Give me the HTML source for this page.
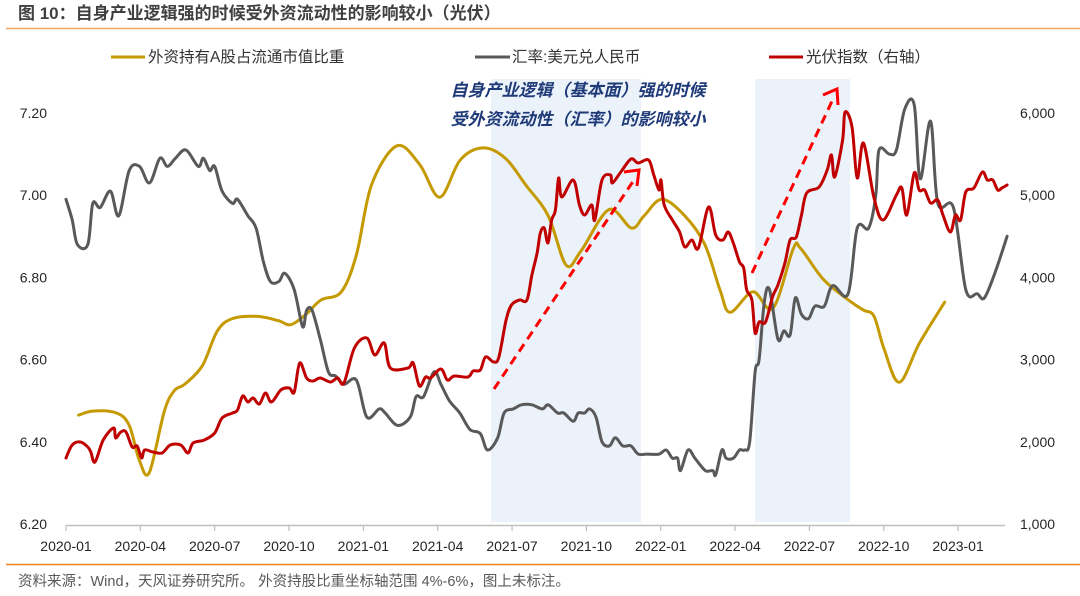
<!DOCTYPE html>
<html><head><meta charset="utf-8">
<style>
html,body{margin:0;padding:0;background:#fff;}
body{width:1080px;height:596px;overflow:hidden;position:relative;font-family:"Liberation Sans","Noto Sans CJK SC",sans-serif;}
svg{position:absolute;left:0;top:0;}
</style></head>
<body>
<svg id="chart" width="1080" height="596" viewBox="0 0 1080 596" xmlns="http://www.w3.org/2000/svg">
  <text x="18" y="19" font-size="17" font-weight="bold" fill="#404040" font-family="Liberation Sans, Noto Sans CJK SC, sans-serif">图 10：自身产业逻辑强的时候受外资流动性的影响较小（光伏）</text>
  <line x1="6" y1="28.5" x2="1080" y2="28.5" stroke="#f4a460" stroke-width="1.5"/>
  <rect x="491" y="79" width="150" height="443" fill="#ebf2fa"/>
  <rect x="755" y="79" width="95" height="443" fill="#ebf2fa"/>
  <g id="axes"></g>
  <g id="series"></g>
  <g font-size="15.5" fill="#333" font-family="Liberation Sans, Noto Sans CJK SC, sans-serif">
    <g>
      <line x1="111" y1="57" x2="145" y2="57" stroke="#c49a00" stroke-width="3"/>
      <text x="148" y="62">外资持有A股占流通市值比重</text>
    </g>
    <g>
      <line x1="475" y1="57" x2="510" y2="57" stroke="#595959" stroke-width="3"/>
      <text x="512" y="62">汇率:美元兑人民币</text>
    </g>
    <g>
      <line x1="769" y1="57" x2="803" y2="57" stroke="#c00000" stroke-width="3"/>
      <text x="806" y="62">光伏指数（右轴）</text>
    </g>
  </g>
  <g font-size="17" font-weight="bold" font-style="italic" fill="#1f3a78" text-anchor="middle" font-family="Liberation Sans, Noto Sans CJK SC, sans-serif">
    <text x="578" y="96">自身产业逻辑（基本面）强的时候</text>
    <text x="578" y="125">受外资流动性（汇率）的影响较小</text>
  </g>
  <g stroke="#ff0000" stroke-width="3" fill="none">
    <line x1="494" y1="389" x2="634" y2="180" stroke-dasharray="9,6"/>
    <polyline points="624,172 639,170 637,186"/>
    <line x1="752" y1="273" x2="833" y2="99" stroke-dasharray="9,6"/>
    <polyline points="823,95 837,89 838,105"/>
  </g>
  <line x1="6" y1="564.5" x2="1080" y2="564.5" stroke="#f08020" stroke-width="1.5"/>
  <text x="18" y="586" font-size="14.5" fill="#595959" font-family="Liberation Sans, Noto Sans CJK SC, sans-serif">资料来源：Wind，天风证券研究所。 外资持股比重坐标轴范围 4%-6%，图上未标注。</text>
</svg>
<script>
// ---- data ----
const xTickLabels = ["2020-01","2020-04","2020-07","2020-10","2021-01","2021-04","2021-07","2021-10","2022-01","2022-04","2022-07","2022-10","2023-01"];
const leftTickLabels = ["6.20","6.40","6.60","6.80","7.00","7.20"];
const leftTickValues = [6.2,6.4,6.6,6.8,7.0,7.2];
const rightTickLabels = ["1,000","2,000","3,000","4,000","5,000","6,000"];
const rightTickValues = [1000,2000,3000,4000,5000,6000];

// months since 2020-01
const shareT = [0.51,1.12,2.04,2.55,2.96,3.36,3.97,4.38,4.79,5.50,6.11,6.73,7.74,8.56,9.07,9.68,10.29,11.11,11.72,12.33,13.35,14.27,15.08,15.90,16.81,17.73,18.55,19.46,20.18,20.79,21.91,22.82,23.33,24.05,24.97,25.78,26.39,26.80,27.72,28.53,29.35,29.65,30.57,31.69,32.20,32.61,33.02,33.63,34.44,35.46];
const shareV = [4.53,4.55,4.54,4.48,4.31,4.25,4.55,4.65,4.68,4.77,4.94,5.00,5.01,4.99,4.97,5.02,5.09,5.13,5.31,5.65,5.84,5.75,5.59,5.77,5.83,5.78,5.65,5.50,5.26,5.33,5.53,5.44,5.50,5.58,5.50,5.36,5.14,5.03,5.13,5.05,5.34,5.34,5.19,5.08,5.04,5.01,4.85,4.69,4.88,5.08];

const fxT = [0,0.25,0.46,0.88,1.08,1.38,1.79,2.13,2.55,2.97,3.37,3.79,4.09,4.42,4.84,5.34,5.54,5.80,6.00,6.30,6.72,6.92,7.34,7.67,7.96,8.25,8.59,8.83,9.21,9.55,9.71,9.93,10.26,10.59,10.88,11.22,11.72,12.14,12.64,12.88,13.38,13.89,14.13,14.43,14.85,15.13,15.47,15.89,16.30,16.72,17.01,17.42,17.68,18.06,18.38,18.80,19.22,19.46,19.84,20.09,20.47,20.67,20.93,21.13,21.39,21.63,21.93,22.17,22.47,22.80,23.09,23.43,23.93,24.22,24.47,24.68,24.80,25.10,25.38,25.80,26.10,26.22,26.47,26.64,26.93,27.18,27.39,27.59,27.81,27.97,28.18,28.39,28.73,28.97,29.22,29.43,29.68,29.97,30.22,30.60,30.94,31.56,31.93,32.39,32.68,32.81,33.23,33.51,33.85,34.23,34.47,34.89,35.18,35.81,36.31,36.77,37.06,37.48,37.98];
const fxV = [6.99,6.94,6.88,6.88,6.98,6.97,7.01,6.95,7.06,7.07,7.03,7.09,7.07,7.09,7.11,7.07,7.09,7.06,7.07,7.01,6.98,6.99,6.95,6.92,6.84,6.79,6.79,6.81,6.77,6.68,6.72,6.72,6.65,6.57,6.56,6.54,6.55,6.46,6.48,6.47,6.44,6.46,6.51,6.51,6.57,6.54,6.50,6.47,6.43,6.42,6.38,6.41,6.47,6.48,6.49,6.49,6.48,6.49,6.47,6.47,6.45,6.47,6.47,6.48,6.46,6.40,6.39,6.41,6.39,6.39,6.37,6.37,6.37,6.38,6.36,6.36,6.33,6.38,6.36,6.33,6.33,6.32,6.38,6.36,6.36,6.38,6.38,6.40,6.57,6.60,6.74,6.77,6.65,6.67,6.66,6.75,6.71,6.70,6.73,6.73,6.78,6.76,6.92,6.92,7.00,7.11,7.10,7.11,7.21,7.22,7.04,7.18,6.98,6.97,6.77,6.76,6.75,6.81,6.90];

const pvT = [0,0.25,0.58,0.88,1.00,1.17,1.50,1.92,2.00,2.21,2.42,2.67,2.87,3.05,3.17,3.51,3.88,4.21,4.63,4.92,5.13,5.58,6.00,6.30,6.72,6.92,7.13,7.34,7.55,7.80,8.05,8.29,8.67,9.01,9.21,9.43,9.71,9.97,10.26,10.67,10.96,11.22,11.64,12.14,12.46,12.84,13.09,13.80,14.01,14.26,14.51,14.71,15.13,15.39,15.67,16.22,16.43,16.72,16.93,17.26,17.47,17.76,17.98,18.30,18.60,18.80,19.01,19.14,19.30,19.45,19.60,19.75,19.88,20.01,20.47,20.72,20.93,21.22,21.34,21.63,21.97,22.05,22.39,22.80,23.09,23.51,23.72,23.93,24.01,24.14,24.47,24.76,24.97,25.26,25.52,25.93,26.22,26.51,26.72,26.93,27.18,27.35,27.47,27.68,27.81,27.97,28.23,28.51,28.73,29.01,29.22,29.47,29.68,29.89,30.39,30.72,30.89,31.02,31.34,31.44,31.72,31.93,32.18,32.60,32.97,33.51,33.73,33.93,34.23,34.43,34.65,34.89,35.18,35.39,35.69,35.89,36.10,36.31,36.64,36.98,37.18,37.40,37.60,37.77,37.98];
const pvV = [1803,1961,1998,1937,1876,1754,2022,2168,2046,2119,2119,1937,1949,1803,1900,1876,1864,1961,1961,1864,1985,2022,2107,2290,2350,2387,2557,2484,2533,2460,2594,2484,2630,2655,2606,2959,2776,2740,2776,2728,2776,2716,3141,3263,3056,3202,2898,2898,2959,2679,2788,2776,2886,2752,2801,2788,2861,2874,3032,2971,3032,3482,3664,3725,3725,4029,4297,4540,4600,4420,4700,4820,5209,4978,5185,4881,4759,4881,4698,5185,5246,5148,5282,5440,5392,5428,5246,5063,5185,4881,4698,4552,4370,4455,4358,4856,4516,4455,4552,4419,4187,4114,3847,3725,3324,3458,3458,3762,3908,4175,4455,4492,4759,5027,5100,5307,5489,5221,5672,6012,5830,5209,5635,4978,4698,5002,5088,4759,5270,5063,5063,4905,4942,4759,4552,4759,4698,5039,5088,5282,5185,5185,5063,5088,5124];

// ---- scales ----
const X0 = 66, MONTH = 24.78, YBOT = 524, YTOP = 113;
const xAt = t => X0 + t * MONTH;
const yLeft = v => YBOT - (v - 6.2) / 1.0 * (YBOT - YTOP);
const yRight = v => YBOT - (v - 1000) / 5000 * (YBOT - YTOP);
const yShare = v => YBOT - (v - 4) / 2 * (YBOT - YTOP);

const NS = "http://www.w3.org/2000/svg";
const axes = document.getElementById("axes");
const series = document.getElementById("series");
function mk(tag, attrs, parent){ const e=document.createElementNS(NS,tag); for(const k in attrs) e.setAttribute(k,attrs[k]); parent.appendChild(e); return e; }

const xAxis = mk("line",{x1:X0,y1:525.5,x2:1005,y2:525.5,stroke:"#bfbfbf","stroke-width":1.5},axes);


xTickLabels.forEach((lab,i)=>{
  const x = xAt(i*3);
  const tk = mk("line",{x1:x,y1:525,x2:x,y2:531,stroke:"#bfbfbf","stroke-width":1.2},axes);
  
  
  const tx = mk("text",{x:x,y:551,"text-anchor":"middle","font-size":14,fill:"#262626"},axes);
  tx.textContent = lab;
  
  
});
leftTickValues.forEach((v,i)=>{
  const tx = mk("text",{x:47,y:yLeft(v)+5,"text-anchor":"end","font-size":14,fill:"#262626"},axes);
  tx.textContent = leftTickLabels[i];
  
  
});
rightTickValues.forEach((v,i)=>{
  const tx = mk("text",{x:1020,y:yRight(v)+5,"text-anchor":"start","font-size":14,fill:"#262626"},axes);
  tx.textContent = rightTickLabels[i];
  
  
});

function smoothPath(pts){
  let d = "M" + pts[0][0].toFixed(1) + "," + pts[0][1].toFixed(1);
  for(let i=0;i<pts.length-1;i++){
    const p0 = pts[i-1]||pts[i], p1 = pts[i], p2 = pts[i+1], p3 = pts[i+2]||p2;
    const k = 1/6;
    const c1 = [p1[0]+(p2[0]-p0[0])*k, p1[1]+(p2[1]-p0[1])*k];
    const c2 = [p2[0]-(p3[0]-p1[0])*k, p2[1]-(p3[1]-p1[1])*k];
    d += " C"+c1[0].toFixed(1)+","+c1[1].toFixed(1)+" "+c2[0].toFixed(1)+","+c2[1].toFixed(1)+" "+p2[0].toFixed(1)+","+p2[1].toFixed(1);
  }
  return d;
}
function line(ts, vs, yf, color){
  const pts = ts.map((t,i)=>[xAt(t), yf(vs[i])]);
  return mk("path",{d: smoothPath(pts),fill:"none",stroke:color,"stroke-width":3,"stroke-linejoin":"round","stroke-linecap":"round"},series);
}
const l1 = line(shareT, shareV, yShare, "#c49a00");


const l2 = line(fxT, fxV, yLeft, "#595959");


const l3 = line(pvT, pvV, yRight, "#c00000");


</script>
</body></html>
